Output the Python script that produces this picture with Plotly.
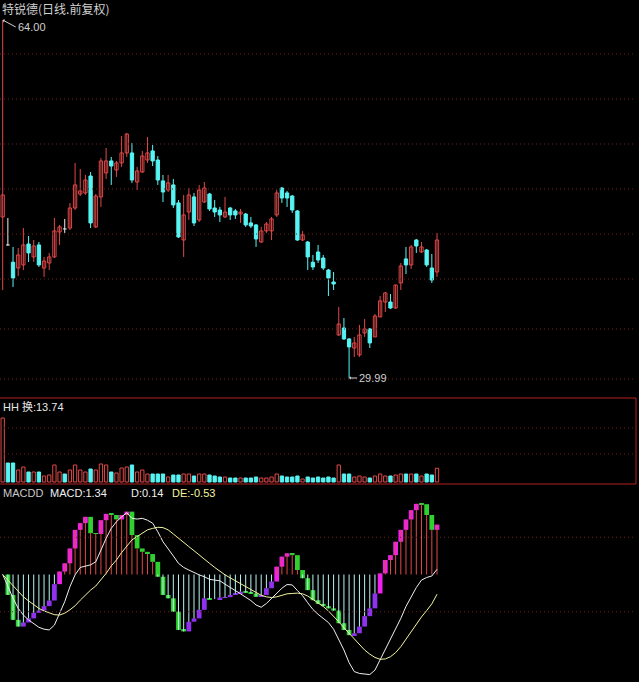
import plotly.graph_objects as go

W, H = 639, 682

# ---- daily bars (forward-adjusted prices) ----
opens = [45.29, 42.63, 40.99, 40.44, 40.73, 42.72, 41.49, 42.63, 40.44, 40.92,
         41.49, 43.86, 44.15, 44.24, 46.14, 47.47, 47.57, 49.18, 44.34, 47.19,
         49.47, 50.61, 49.75, 50.42, 51.37, 51.37, 48.61, 49.56, 50.70, 51.56,
         50.70, 48.71, 47.85, 48.33, 46.62, 43.10, 45.76, 47.19, 45.00, 46.71,
         47.47, 46.14, 45.95, 45.29, 46.14, 45.86, 45.57, 45.57, 44.72, 44.53,
         42.91, 43.96, 43.96, 45.48, 48.04, 47.57, 47.28, 45.86, 43.10, 42.91,
         40.99, 41.96, 41.39, 40.25, 39.11, 34.08, 34.74, 33.70, 32.84, 32.18,
         34.27, 34.65, 33.89, 35.79, 37.21, 37.21, 36.64, 39.02, 41.30, 40.73,
         43.10, 41.96, 42.15, 40.44, 40.06]
highs = [64.00, 45.19, 42.44, 42.34, 44.24, 43.48, 43.10, 42.91, 41.49, 41.87,
         45.19, 44.53, 45.10, 46.61, 50.42, 49.85, 49.28, 49.56, 47.47, 50.89,
         51.84, 50.99, 50.61, 52.98, 53.27, 52.32, 50.04, 51.56, 52.89, 52.13,
         51.08, 49.28, 49.28, 48.90, 46.90, 47.38, 48.04, 47.57, 48.33, 48.61,
         47.57, 46.90, 46.24, 47.19, 46.24, 46.05, 46.05, 45.67, 45.29, 44.62,
         44.34, 44.81, 45.29, 47.85, 48.14, 47.76, 47.38, 45.95, 43.96, 43.01,
         41.68, 42.63, 41.68, 40.35, 40.06, 36.73, 35.69, 33.79, 33.89, 35.03,
         35.60, 34.74, 36.07, 37.78, 38.16, 37.97, 38.83, 40.92, 42.44, 42.63,
         43.20, 42.91, 42.25, 41.77, 43.77]
lows = [38.35, 42.55, 38.64, 39.68, 40.25, 41.01, 41.01, 40.54, 39.59, 40.25,
        41.39, 42.63, 43.77, 44.05, 45.95, 47.28, 47.38, 44.24, 44.24, 46.24,
        48.90, 48.33, 49.09, 50.04, 50.99, 48.52, 47.85, 49.47, 50.42, 50.13,
        48.33, 46.71, 47.66, 46.14, 43.29, 41.49, 45.00, 44.43, 44.81, 46.62,
        45.86, 45.29, 44.81, 45.19, 45.00, 45.10, 44.72, 44.34, 44.24, 42.44,
        42.82, 43.77, 43.10, 45.29, 46.62, 46.24, 45.67, 43.01, 43.01, 40.25,
        40.25, 40.92, 40.25, 37.78, 38.35, 33.98, 33.60, 29.99, 31.99, 31.99,
        33.89, 32.84, 33.89, 35.79, 36.26, 36.55, 36.55, 38.35, 39.87, 40.35,
        41.87, 41.87, 40.54, 39.02, 39.59]
closes = [47.38, 42.63, 39.49, 41.68, 42.63, 41.87, 42.53, 40.73, 41.10, 41.49,
          43.96, 44.34, 44.15, 46.14, 48.33, 47.76, 48.80, 44.72, 47.28, 50.61,
          50.61, 50.13, 50.42, 51.37, 53.17, 48.80, 49.66, 51.08, 51.37, 50.61,
          48.80, 47.66, 48.52, 46.43, 43.39, 45.48, 47.38, 44.72, 47.85, 48.04,
          46.05, 45.76, 45.48, 45.76, 45.48, 45.48, 45.76, 44.53, 44.43, 43.20,
          43.96, 44.62, 45.10, 47.57, 47.09, 47.09, 45.95, 43.10, 43.58, 41.49,
          40.54, 41.20, 40.44, 39.49, 38.92, 35.12, 33.70, 32.94, 33.32, 34.08,
          34.65, 33.32, 35.88, 37.31, 38.07, 36.64, 38.83, 40.63, 40.73, 42.44,
          42.53, 42.44, 40.73, 39.30, 43.10]

# ---- turnover rate (%) ----
turnover = [64, 19, 19, 12, 15, 10, 10, 10, 6, 7,
            17, 10, 8, 12, 17, 12, 10, 13, 12, 18,
            17, 10, 9, 14, 15, 17, 10, 12, 8, 8,
            8, 8, 5, 7, 7, 8, 8, 6, 8, 8,
            7, 6, 5, 5, 4, 4, 4, 4, 4, 5,
            4, 4, 5, 8, 6, 5, 5, 6, 3, 5,
            4, 5, 4, 5, 4, 17, 8, 8, 5, 6,
            5, 4, 6, 8, 6, 6, 7, 8, 8, 8,
            8, 6, 8, 7, 13.74]

# ---- MACD indicator: histogram, D (DIF) and DE (DEA) ----
macd_hist = [0.00, -0.55, -1.22, -1.40, -1.29, -1.18, -1.03, -0.97, -0.85, -0.70,
             -0.26, 0.08, 0.30, 0.70, 1.20, 1.38, 1.55, 1.11, 1.09, 1.46,
             1.63, 1.60, 1.48, 1.60, 1.69, 1.06, 0.70, 0.61, 0.55, 0.34,
             -0.06, -0.55, -0.64, -1.00, -1.49, -1.53, -1.27, -1.18, -0.95, -0.64,
             -0.66, -0.66, -0.62, -0.61, -0.55, -0.51, -0.46, -0.48, -0.51, -0.60,
             -0.55, -0.37, -0.19, 0.21, 0.48, 0.57, 0.52, 0.12, -0.10, -0.42,
             -0.69, -0.79, -0.85, -0.91, -0.97, -1.31, -1.49, -1.63, -1.58, -1.40,
             -1.12, -0.91, -0.51, 0.03, 0.39, 0.52, 0.88, 1.20, 1.48, 1.73,
             1.90, 1.89, 1.60, 1.20, 1.34]
dif = [0.00, -0.33, -0.64, -0.91, -1.09, -1.22, -1.33, -1.42, -1.47, -1.49,
       -1.36, -1.04, -0.73, -0.33, -0.01, 0.19, 0.23, 0.26, 0.34, 0.66,
       0.97, 1.24, 1.42, 1.55, 1.66, 1.51, 1.49, 1.51, 1.46, 1.38,
       1.15, 0.88, 0.70, 0.50, 0.30, 0.19, 0.12, 0.05, -0.01, -0.06,
       -0.13, -0.15, -0.17, -0.26, -0.34, -0.43, -0.52, -0.61, -0.70, -0.82,
       -0.88, -0.78, -0.64, -0.51, -0.37, -0.27, -0.28, -0.43, -0.57, -0.76,
       -0.94, -1.07, -1.18, -1.29, -1.47, -1.74, -2.03, -2.37, -2.61, -2.66,
       -2.67, -2.69, -2.57, -2.30, -2.03, -1.76, -1.49, -1.18, -0.86, -0.60,
       -0.35, -0.15, -0.08, -0.04, 0.14]
dea = [0.00, -0.15, -0.31, -0.46, -0.60, -0.71, -0.82, -0.91, -0.98, -1.04,
       -1.08, -1.09, -1.04, -0.95, -0.84, -0.69, -0.55, -0.42, -0.31, -0.15,
       0.03, 0.23, 0.39, 0.59, 0.75, 0.93, 1.02, 1.11, 1.20, 1.24,
       1.27, 1.26, 1.20, 1.09, 0.97, 0.86, 0.75, 0.64, 0.52, 0.42,
       0.30, 0.19, 0.08, -0.01, -0.09, -0.17, -0.25, -0.33, -0.41, -0.49,
       -0.56, -0.60, -0.62, -0.60, -0.55, -0.52, -0.51, -0.50, -0.52, -0.58,
       -0.67, -0.76, -0.86, -0.98, -1.12, -1.27, -1.43, -1.58, -1.74, -1.90,
       -2.03, -2.14, -2.23, -2.28, -2.27, -2.21, -2.10, -1.94, -1.74, -1.54,
       -1.31, -1.14, -0.97, -0.79, -0.53]

RED = "#e04848"
CYAN = "#58f4f4"
WHITE = "#f0f0f0"
MAGENTA = "#f020f0"
GREEN = "#30d030"
PURPLE = "#9030f0"
STICK_NEG = "#b8f4f4"
YELLOW = "#f4f4a0"
GRID = "#6e1e1e"
TXT = "#d0d0d0"

n = len(opens)
idx = list(range(n))
up = [i for i in idx if closes[i] > opens[i]]
dn = [i for i in idx if closes[i] < opens[i]]
dj = [i for i in idx if closes[i] == opens[i]]


def segs(ids, y0, y1):
    xs, ys = [], []
    for i in ids:
        xs += [i, i, None]
        ys += [y0[i], y1[i], None]
    return xs, ys


fig = go.Figure()

# candle wicks
for ids, col in ((up, RED), (dn, CYAN), (dj, WHITE)):
    xs, ys = segs(ids, lows, highs)
    fig.add_trace(go.Scatter(x=xs, y=ys, mode="lines", line=dict(color=col, width=1),
                             hoverinfo="skip", xaxis="x", yaxis="y"))

# candle bodies: rising hollow red, falling solid cyan
fig.add_trace(go.Bar(x=up, y=[closes[i] - opens[i] for i in up], base=[opens[i] for i in up],
                     width=0.64, marker=dict(color="black", line=dict(color=RED, width=1)),
                     xaxis="x", yaxis="y"))
fig.add_trace(go.Bar(x=dn, y=[opens[i] - closes[i] for i in dn], base=[closes[i] for i in dn],
                     width=0.64, marker=dict(color=CYAN, line=dict(color=CYAN, width=1)),
                     xaxis="x", yaxis="y"))
# doji crossbars
dx, dy = [], []
for i in dj:
    dx += [i - 0.35, i + 0.35, None]
    dy += [opens[i], opens[i], None]
fig.add_trace(go.Scatter(x=dx, y=dy, mode="lines", line=dict(color=WHITE, width=1),
                         xaxis="x", yaxis="y"))

# turnover bars
vup = [i for i in idx if closes[i] > opens[i]]
vdn = [i for i in idx if closes[i] <= opens[i]]
fig.add_trace(go.Bar(x=vup, y=[turnover[i] for i in vup], width=0.64,
                     marker=dict(color="black", line=dict(color=RED, width=1)),
                     xaxis="x", yaxis="y2"))
fig.add_trace(go.Bar(x=vdn, y=[turnover[i] for i in vdn], width=0.64,
                     marker=dict(color=CYAN, line=dict(color=CYAN, width=1)),
                     xaxis="x", yaxis="y2"))

# MACD thin sticks
zeros = [0] * n
pos = [i for i in idx if macd_hist[i] > 0]
neg = [i for i in idx if macd_hist[i] < 0]
for ids, col in ((pos, RED), (neg, STICK_NEG)):
    xs, ys = segs(ids, zeros, macd_hist)
    fig.add_trace(go.Scatter(x=xs, y=ys, mode="lines", line=dict(color=col, width=1),
                             hoverinfo="skip", xaxis="x", yaxis="y3"))

# MACD step blocks between consecutive values
groups = {MAGENTA: [], PURPLE: [], GREEN: []}
for i in idx[1:]:
    prev, cur = macd_hist[i - 1], macd_hist[i]
    if cur > prev:
        col = MAGENTA if cur > 0 else PURPLE
    else:
        col = GREEN
    groups[col].append(i)
for col, ids in groups.items():
    fig.add_trace(go.Bar(x=ids, y=[macd_hist[i] - macd_hist[i - 1] for i in ids],
                         base=[macd_hist[i - 1] for i in ids], width=0.92,
                         marker=dict(color=col, line=dict(width=0)),
                         xaxis="x", yaxis="y3"))

fig.add_trace(go.Scatter(x=idx, y=dea, mode="lines", line=dict(color=YELLOW, width=1),
                         xaxis="x", yaxis="y3"))
fig.add_trace(go.Scatter(x=idx, y=dif, mode="lines", line=dict(color=WHITE, width=1),
                         xaxis="x", yaxis="y3"))


def py(p):
    return 1 - p / H


DOTS = "1px,3px"
shapes = []
# dotted grid in price panel
for gy in (54, 99, 144, 189, 234, 279, 329, 379):
    shapes.append(dict(type="line", xref="paper", yref="paper", x0=0, x1=636 / W,
                       y0=py(gy), y1=py(gy), line=dict(color=GRID, width=1, dash=DOTS)))
for gv in (28, 54):
    shapes.append(dict(type="line", xref="paper", yref="y2", x0=0, x1=636 / W,
                       y0=gv, y1=gv, line=dict(color=GRID, width=1, dash=DOTS)))
for gv in (1.0, -1.0):
    shapes.append(dict(type="line", xref="paper", yref="y3", x0=0, x1=636 / W,
                       y0=gv, y1=gv, line=dict(color=GRID, width=1, dash=DOTS)))
# panel separators
for sy in (398, 484):
    shapes.append(dict(type="line", xref="paper", yref="paper", x0=0, x1=636 / W,
                       y0=py(sy), y1=py(sy), line=dict(color="#b02020", width=1)))
shapes.append(dict(type="line", xref="paper", yref="paper", x0=636 / W, x1=636 / W,
                   y0=py(398), y1=py(484), line=dict(color="#b02020", width=1)))

LAT = "Liberation Sans, Noto Sans CJK SC, sans-serif"
CJK = "Noto Sans CJK SC, sans-serif"


def label(text, x, y, color=TXT, size=11, family=LAT):
    return dict(text=text, x=x / W, y=py(y), xref="paper", yref="paper", xanchor="left",
                yanchor="middle", showarrow=False, font=dict(color=color, size=size, family=family))


annotations = [
    label("特锐德(日线.前复权)", 0, 9, size=12, family=CJK),
    label("HH 换:13.74", 1, 406, color="#e8e8e8", size=11),
    label("MACDD", 1, 493, color="#c8c8c8"),
    label("MACD:1.34", 48, 493, color="#f0f0f0"),
    label("D:0.14", 129, 493, color="#f0f0f0"),
    label("DE:-0.53", 170, 493, color=YELLOW),
    dict(text="64.00", x=0, y=highs[0], xref="x", yref="y", showarrow=True, arrowhead=1,
         arrowsize=0.6, arrowwidth=1, arrowcolor=TXT, ax=13, ay=7, standoff=0,
         xanchor="left", yanchor="middle", font=dict(color=TXT, size=11, family=LAT)),
    dict(text="29.99", x=67, y=lows[67], xref="x", yref="y", showarrow=True, arrowhead=1,
         arrowsize=0.6, arrowwidth=1, arrowcolor=TXT, ax=8, ay=0, standoff=0,
         xanchor="left", yanchor="middle", font=dict(color=TXT, size=11, family=LAT)),
]

fig.update_layout(
    width=W, height=H, margin=dict(l=0, r=0, t=0, b=0),
    paper_bgcolor="black", plot_bgcolor="black", showlegend=False, barmode="overlay",
    xaxis=dict(range=[-0.522, 123.07], visible=False, fixedrange=True),
    yaxis=dict(domain=[py(398), 1], range=[28.09, 65.90], visible=False),
    yaxis2=dict(domain=[py(484), py(398)], range=[-2, 84], visible=False),
    yaxis3=dict(domain=[0, py(484)], range=[-2.8898, 2.4328], visible=False),
    shapes=shapes, annotations=annotations,
)

fig.write_html("out.html")
